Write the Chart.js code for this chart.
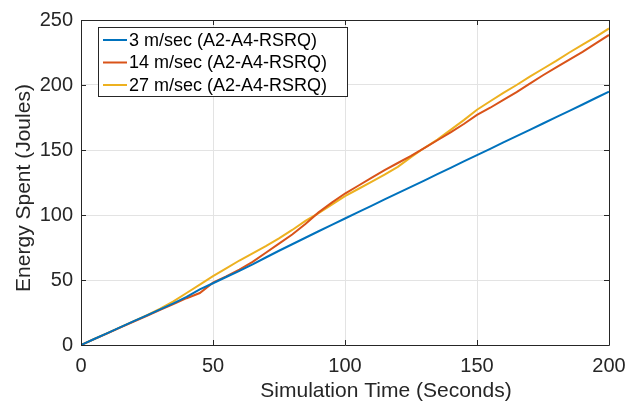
<!DOCTYPE html>
<html>
<head>
<meta charset="utf-8">
<script src="https://cdn.jsdelivr.net/npm/chart.js@4.4.1/dist/chart.umd.min.js"></script>
<style>
  html, body { margin: 0; padding: 0; background: #fff; }
  canvas { display: block; }
</style>
</head>
<body>
<canvas id="energy" width="642" height="407"></canvas>
<script>
// simulation time (s)
const timeSec = [0, 5, 10, 15, 20, 25, 30, 35, 40, 45, 50, 55, 60, 65, 70, 75, 80, 85, 90, 95,
  100, 105, 110, 115, 120, 125, 130, 135, 140, 145, 150, 155, 160, 165, 170, 175, 180, 185, 190, 195, 200];

// energy spent (J) for each speed
const speed3 = [0, 4.6, 9.2, 13.8, 18.3, 22.8, 27.4, 32, 37, 42.8, 47.5, 52.3, 57, 62, 67.3, 72.5, 77.5, 82.5, 87.5, 92.4,
  97.3, 102.2, 107, 112, 116.8, 121.7, 126.5, 131.4, 136.3, 141.2, 146, 150.9, 155.8, 160.6, 165.5, 170.4, 175.3, 180.1, 185, 190, 194.8];
const speed14 = [0, 4.5, 9, 13.5, 18, 22.5, 27, 31.5, 36, 40, 48, 52.8, 58, 64, 71, 78, 85, 93, 102, 109.5,
  116.5, 122.5, 128.5, 134.5, 140, 145.5, 151.5, 157.5, 163.5, 170, 177, 182.5, 188.5, 194.5, 201, 207.5, 213.5, 219.5, 225.5, 232, 238.5];
const speed27 = [0, 4.6, 9.2, 13.8, 18.4, 23, 28, 33.5, 40, 46.5, 53, 59, 65, 70.5, 76, 82, 88.5, 95.5, 101.5, 108,
  114.5, 120, 125.5, 131, 137, 144.5, 151.5, 158, 165.5, 173, 181, 187.5, 194, 200, 206.5, 212.5, 218.5, 225, 231, 237, 243.5];

const seriesLabels = ['3 m/sec (A2-A4-RSRQ)', '14 m/sec (A2-A4-RSRQ)', '27 m/sec (A2-A4-RSRQ)'];
const seriesColors = ['#0072BD', '#D95319', '#EDB120'];

const xTicks = [0, 50, 100, 150, 200];
const yTicks = [0, 50, 100, 150, 200, 250];
const xTitle = 'Simulation Time (Seconds)';
const yTitle = 'Energy Spent (Joules)';

const textColor = '#262626';
const fontFamily = '"Liberation Sans", Arial, Helvetica, sans-serif';

function toPoints(ys) {
  return ys.map((y, i) => ({ x: timeSec[i], y: y }));
}

// box round the axes, inward ticks, axis titles and the legend, the way matlab draws them
const matlabBox = {
  id: 'matlabBox',
  afterDatasetsDraw(chart) {
    const ctx = chart.ctx;
    const a = chart.chartArea;
    const xs = chart.scales.x, ys = chart.scales.y;
    ctx.save();
    ctx.strokeStyle = textColor;
    ctx.lineWidth = 1;
    ctx.beginPath();
    ctx.rect(Math.round(a.left) + 0.5, Math.round(a.top) + 0.5, Math.round(a.right - a.left), Math.round(a.bottom - a.top));
    ctx.stroke();
    const len = 5;
    ctx.beginPath();
    xTicks.forEach(v => {
      const px = Math.round(xs.getPixelForValue(v)) + 0.5;
      ctx.moveTo(px, a.bottom); ctx.lineTo(px, a.bottom - len);
      ctx.moveTo(px, a.top); ctx.lineTo(px, a.top + len);
    });
    yTicks.forEach(v => {
      const py = Math.round(ys.getPixelForValue(v)) + 0.5;
      ctx.moveTo(a.left, py); ctx.lineTo(a.left + len, py);
      ctx.moveTo(a.right, py); ctx.lineTo(a.right - len, py);
    });
    ctx.stroke();
    ctx.restore();
  },
  afterDraw(chart) {
    const ctx = chart.ctx;
    ctx.save();
    // axis titles (sit a little off centre in the original)
    ctx.fillStyle = textColor;
    ctx.font = '21px ' + fontFamily;
    ctx.textAlign = 'center';
    ctx.textBaseline = 'alphabetic';
    ctx.fillText(xTitle, 386, 397);
    ctx.save();
    ctx.translate(30, 188);
    ctx.rotate(-Math.PI / 2);
    ctx.fillText(yTitle, 0, 0);
    ctx.restore();

    // legend
    const boxX = 98.5, boxY = 27.5, boxW = 249, boxH = 69;
    ctx.fillStyle = '#fff';
    ctx.fillRect(boxX, boxY, boxW, boxH);
    ctx.strokeStyle = textColor;
    ctx.lineWidth = 1;
    ctx.strokeRect(boxX, boxY, boxW, boxH);
    ctx.font = '18px ' + fontFamily;
    ctx.textBaseline = 'middle';
    ctx.textAlign = 'left';
    chart.data.datasets.forEach((ds, i) => {
      const cy = 40 + i * 22.5;
      ctx.strokeStyle = ds.borderColor;
      ctx.lineWidth = 2;
      ctx.beginPath();
      ctx.moveTo(103, cy); ctx.lineTo(127, cy);
      ctx.stroke();
      ctx.fillStyle = '#000';
      ctx.fillText(ds.label, 129, cy + 1);
    });
    ctx.restore();
  }
};

const ctx = document.getElementById('energy').getContext('2d');
const chart = new Chart(ctx, {
  type: 'line',
  data: {
    datasets: [speed3, speed14, speed27].map((ys, i) => ({
      label: seriesLabels[i],
      data: toPoints(ys),
      borderColor: seriesColors[i],
      backgroundColor: seriesColors[i],
      borderWidth: 2,
      pointRadius: 0,
      tension: 0
    }))
  },
  options: {
    responsive: false,
    animation: false,
    layout: {
      padding: { top: 12, right: 33, left: 0, bottom: 0 }
    },
    plugins: {
      legend: { display: false },
      tooltip: { enabled: false }
    },
    scales: {
      x: {
        type: 'linear',
        min: 0,
        max: 200,
        afterBuildTicks: s => { s.ticks = xTicks.map(v => ({ value: v })); },
        afterFit: s => { s.height = 62; },
        grid: { color: '#e3e3e3', drawTicks: false },
        border: { display: false },
        ticks: { color: textColor, padding: 9, font: { family: fontFamily, size: 20 } }
      },
      y: {
        min: 0,
        max: 250,
        afterBuildTicks: s => { s.ticks = yTicks.map(v => ({ value: v })); },
        afterFit: s => { s.width = 81; },
        grid: { color: '#e3e3e3', drawTicks: false },
        border: { display: false },
        ticks: { color: textColor, padding: 8, font: { family: fontFamily, size: 20 } }
      }
    }
  },
  plugins: [matlabBox]
});
</script>
</body>
</html>
